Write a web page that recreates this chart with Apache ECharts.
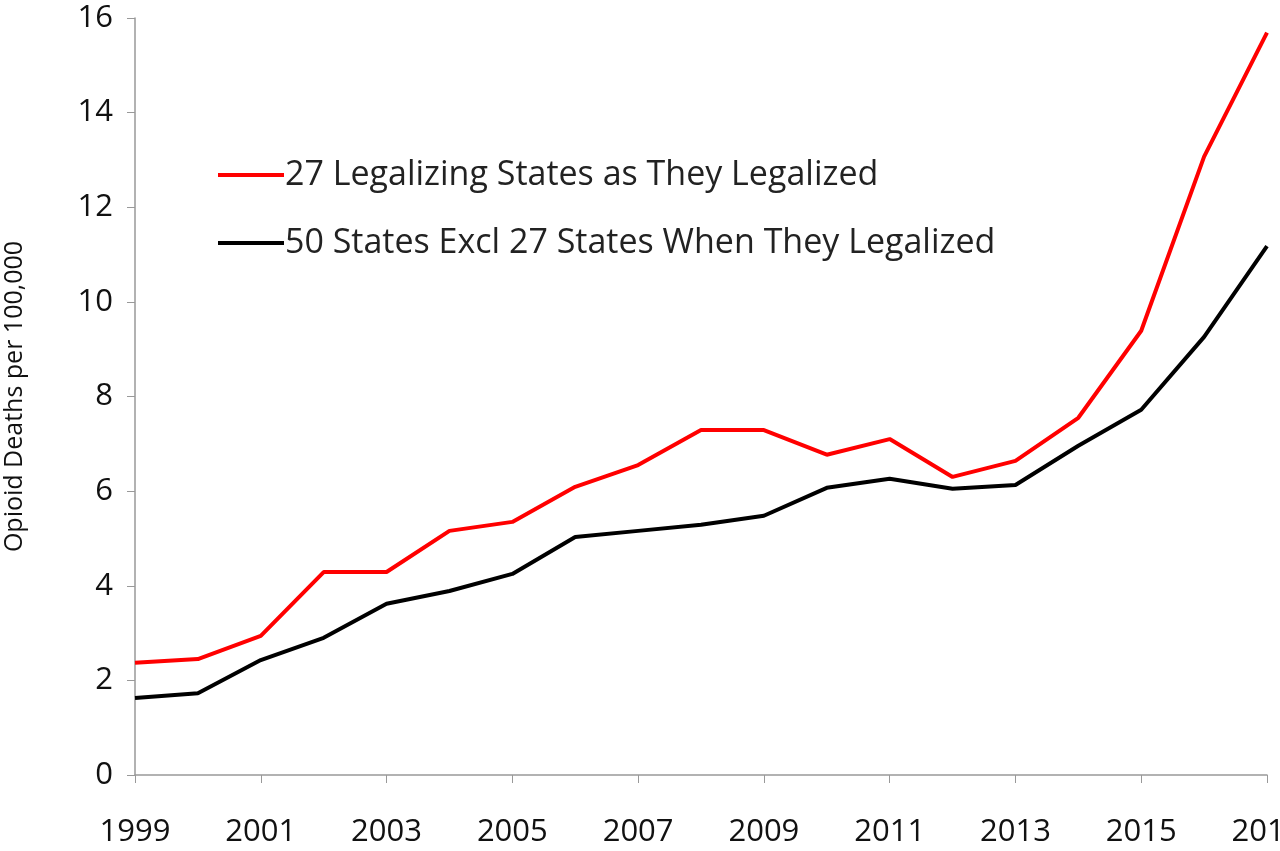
<!DOCTYPE html>
<html><head><meta charset="utf-8">
<script src="https://cdn.jsdelivr.net/npm/echarts@6/dist/echarts.min.js"></script>
<style>html,body{margin:0;padding:0;background:#fff}#c{width:1280px;height:851px}</style>
</head><body><div id="c"></div>
<script>
var years = ['1999','2000','2001','2002','2003','2004','2005','2006','2007','2008','2009','2010','2011','2012','2013','2014','2015','2016','2017'];
var legalizing = [2.37,2.45,2.94,4.29,4.29,5.16,5.35,6.09,6.55,7.29,7.29,6.77,7.10,6.30,6.64,7.55,9.39,13.07,15.69];
var others = [1.63,1.73,2.43,2.90,3.62,3.89,4.25,5.03,5.16,5.29,5.48,6.07,6.26,6.05,6.13,6.96,7.72,9.26,11.18];
var yTicks = [0,2,4,6,8,10,12,14,16];

var chart = echarts.init(document.getElementById('c'));
chart.setOption({
    animation: false,
    textStyle: {fontFamily: 'Open Sans'},
    grid: {left: 135, right: 13, top: 18, bottom: 76, containLabel: false, outerBoundsMode: 'none'},
    legend: {
        orient: 'vertical', left: 213, top: 153, itemGap: 34,
        itemWidth: 66, itemHeight: 4,
        icon: 'rect',
        textStyle: {fontSize: 34, color: '#222', fontFamily: 'Open Sans', padding: [0,0,0,-4]},
        data: ['27 Legalizing States as They Legalized', '50 States Excl 27 States When They Legalized']
    },
    xAxis: {
        type: 'category', data: years, boundaryGap: false,
        axisLine: {lineStyle: {color: '#999', width: 1.5}},
        axisTick: {show: true, interval: 1, length: 8, lineStyle: {color: '#999'}},
        axisLabel: {interval: 1, fontSize: 31, color: '#111', margin: 42, showMaxLabel: true}
    },
    yAxis: {
        type: 'value', min: yTicks[0], max: yTicks[yTicks.length-1], interval: 2,
        name: 'Opioid Deaths per 100,000', nameLocation: 'middle', nameGap: 108,
        nameTextStyle: {fontSize: 25, color: '#111'},
        axisLine: {show: true, lineStyle: {color: '#999', width: 1.5}},
        axisTick: {show: true, length: 8, lineStyle: {color: '#999'}},
        splitLine: {show: false},
        axisLabel: {fontSize: 31, color: '#111', margin: 22}
    },
    series: [
        {name: '27 Legalizing States as They Legalized', type: 'line', data: legalizing,
         symbol: 'none', color: '#ff0000', lineStyle: {width: 4, color: '#ff0000'}},
        {name: '50 States Excl 27 States When They Legalized', type: 'line', data: others,
         symbol: 'none', color: '#000', lineStyle: {width: 4, color: '#000'}}
    ]
});
</script></body></html>
